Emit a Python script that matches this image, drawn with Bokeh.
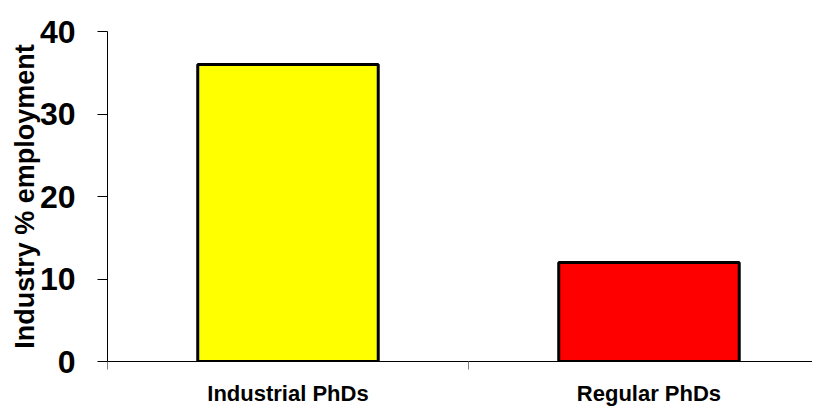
from bokeh.plotting import figure
from bokeh.models import ColumnDataSource, FixedTicker, Range1d
from bokeh.embed import file_html
from bokeh.resources import INLINE

categories = ["Industrial PhDs", "Regular PhDs"]
values = [36, 12]
colors = ["#FFFF00", "#FF0000"]
y_ticks = [0, 10, 20, 30, 40]

positions = [i + 0.5 for i in range(len(categories))]
boundaries = [float(i) for i in range(len(categories) + 1)]

source = ColumnDataSource(dict(x=positions, top=values, color=colors))

p = figure(width=812, height=408, output_backend="svg", toolbar_location=None,
           x_range=Range1d(0, 1.953), y_range=Range1d(0, 40),
           min_border_left=107, min_border_right=0, min_border_top=31, min_border_bottom=46)
p.outline_line_color = None
p.xgrid.visible = False
p.ygrid.visible = False
p.background_fill_color = "white"
p.border_fill_color = "white"

p.vbar(x="x", top="top", bottom=0, width=0.5, source=source,
       fill_color="color", line_color="black", line_width=3)

# Y axis
ya = p.yaxis[0]
ya.ticker = FixedTicker(ticks=y_ticks, minor_ticks=[])
ya.major_tick_out = 10
ya.major_tick_in = 0
ya.minor_tick_out = 0
ya.minor_tick_in = 0
ya.axis_line_color = "black"
ya.major_tick_line_color = "black"
ya.major_label_text_font = "Liberation Sans"
ya.major_label_text_font_style = "bold"
ya.major_label_text_font_size = "32px"
ya.major_label_text_color = "black"
ya.major_label_standoff = 22
ya.axis_label = "Industry % employment"
ya.axis_label_text_font = "Liberation Sans"
ya.axis_label_text_font_style = "bold"
ya.axis_label_text_font_size = "27px"
ya.axis_label_text_color = "black"
ya.axis_label_standoff = -3

# X axis
xa = p.xaxis[0]
xa.ticker = FixedTicker(ticks=positions, minor_ticks=boundaries)
xa.major_label_overrides = {pos: cat for pos, cat in zip(positions, categories)}
xa.major_tick_out = 0
xa.major_tick_in = 0
xa.minor_tick_out = 8
xa.minor_tick_in = 0
xa.minor_tick_line_color = "#808080"
xa.axis_line_color = "black"
xa.major_label_text_font = "Liberation Sans"
xa.major_label_text_font_style = "bold"
xa.major_label_text_font_size = "22px"
xa.major_label_text_color = "black"
xa.major_label_standoff = 11

open("out.html", "w").write(file_html(p, INLINE))
